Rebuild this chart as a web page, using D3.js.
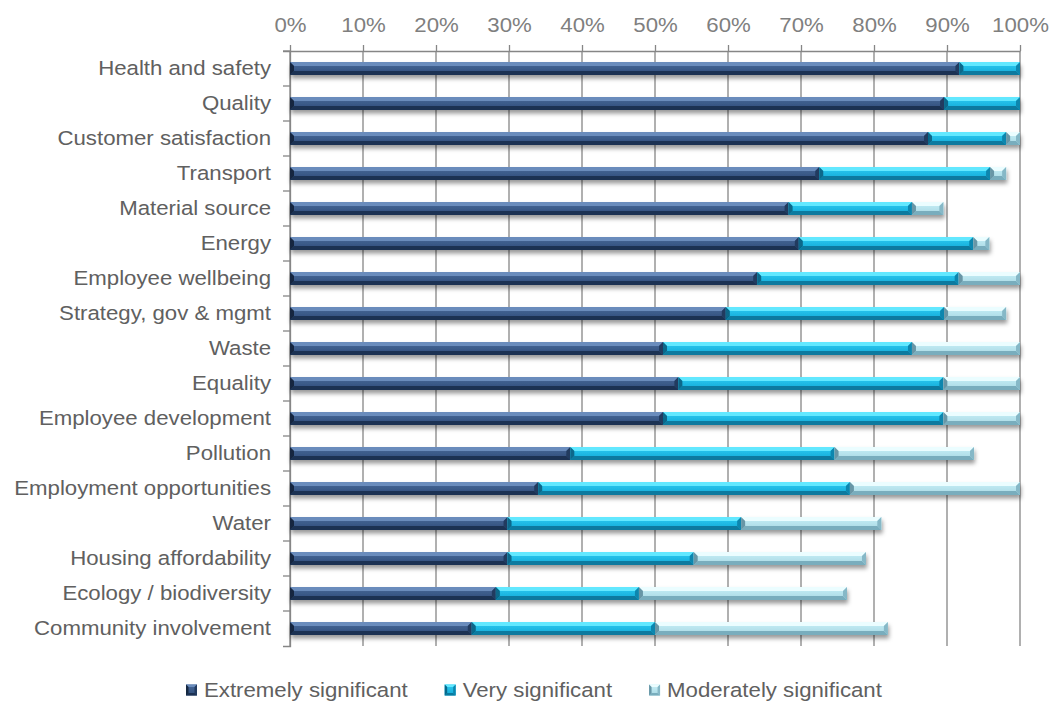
<!DOCTYPE html>
<html>
<head>
<meta charset="utf-8">
<script src="https://cdn.jsdelivr.net/npm/d3@7"></script>
<style>
  body { margin: 0; background: #fff; }
  svg { display: block; }
</style>
</head>
<body>
<svg id="chart" width="1053" height="707"></svg>
<script>
// Share of respondents (%) rating each topic, by significance level
const categories = [
  "Health and safety", "Quality", "Customer satisfaction", "Transport",
  "Material source", "Energy", "Employee wellbeing", "Strategy, gov & mgmt",
  "Waste", "Equality", "Employee development", "Pollution",
  "Employment opportunities", "Water", "Housing affordability",
  "Ecology / biodiversity", "Community involvement"
];
const extremely  = [91.7, 89.6, 87.4, 72.5, 68.3, 69.7, 64.0, 59.7, 51.1, 53.2, 51.1, 38.4, 34.0, 29.8, 29.8, 28.2, 24.9];
const very       = [ 8.3, 10.4, 10.7, 23.4, 16.9, 23.9, 27.6, 29.9, 34.1, 36.3, 38.4, 36.2, 42.7, 32.0, 25.5, 19.6, 25.1];
const moderately = [ 0.0,  0.0,  1.9,  2.2,  4.3,  2.2,  8.4,  8.5, 14.8, 10.5, 10.5, 19.1, 23.3, 19.2, 23.6, 28.5, 31.9];
const seriesNames = ["Extremely significant", "Very significant", "Moderately significant"];
const tickValues = [0, 10, 20, 30, 40, 50, 60, 70, 80, 90, 100];

const svg = d3.select("#chart");
const plot = { left: 290, right: 1020, top: 51, bottom: 646 };
const textStretch = 1.14;
const font = "'Liberation Sans', Arial, sans-serif";

const x = d3.scaleLinear().domain([0, 100]).range([plot.left, plot.right]);
const y = d3.scaleBand().domain(categories).range([plot.top, plot.bottom]);
const barH = Math.round(y.bandwidth() * 0.37);

const keys = ["extremely", "very", "moderately"];
const rows = categories.map((c, i) => ({
  category: c, extremely: extremely[i], very: very[i], moderately: moderately[i]
}));
const stacked = d3.stack().keys(keys)(rows);

// bevelled fill colours per series
const palette = {
  extremely:  { top: "#6a8cbc", c0: "#48699a", c1: "#2f4d79", bottom: "#1c3152", left: "#15273f", right: "#213a5f" },
  very:       { top: "#62e8ff", c0: "#2ccbf2", c1: "#13a9d6", bottom: "#0a7a9f", left: "#07688a", right: "#0b86ae" },
  moderately: { top: "#ebfdff", c0: "#c8f0f7", c1: "#a7d7e3", bottom: "#79adbd", left: "#6796a6", right: "#86b8c7" }
};

const defs = svg.append("defs");
keys.forEach(k => {
  const g = defs.append("linearGradient").attr("id", "grad-" + k)
    .attr("x1", 0).attr("y1", 0).attr("x2", 0).attr("y2", 1);
  g.append("stop").attr("offset", "0%").attr("stop-color", palette[k].c0);
  g.append("stop").attr("offset", "100%").attr("stop-color", palette[k].c1);
});
const shadow = defs.append("filter").attr("id", "shadow")
  .attr("x", "-5%").attr("y", "-40%").attr("width", "110%").attr("height", "210%");
shadow.append("feDropShadow").attr("dx", 1).attr("dy", 3.5).attr("stdDeviation", 2)
  .attr("flood-color", "#000").attr("flood-opacity", 0.4);

// draws one bevelled block
function bevelBlock(g, x0, x1, y0, h, key, size) {
  const w = x1 - x0;
  if (w <= 0.2) return;
  const p = palette[key];
  const b = Math.min(size, w / 2, h / 2);
  const pts = a => a.map(d => d.join(",")).join(" ");
  g.append("rect").attr("x", x0).attr("y", y0).attr("width", w).attr("height", h)
    .attr("fill", `url(#grad-${key})`);
  g.append("polygon").attr("points", pts([[x0, y0], [x1, y0], [x1 - b, y0 + b], [x0 + b, y0 + b]])).attr("fill", p.top);
  g.append("polygon").attr("points", pts([[x0, y0 + h], [x1, y0 + h], [x1 - b, y0 + h - b], [x0 + b, y0 + h - b]])).attr("fill", p.bottom);
  g.append("polygon").attr("points", pts([[x0, y0], [x0 + b, y0 + b], [x0 + b, y0 + h - b], [x0, y0 + h]])).attr("fill", p.left);
  g.append("polygon").attr("points", pts([[x1, y0], [x1 - b, y0 + b], [x1 - b, y0 + h - b], [x1, y0 + h]])).attr("fill", p.right);
}

// vertical gridlines
svg.append("g").selectAll("line").data(tickValues).join("line")
  .attr("x1", d => x(d)).attr("x2", d => x(d))
  .attr("y1", plot.top).attr("y2", plot.bottom)
  .attr("stroke", "#868686").attr("stroke-width", 1.3);

// top value axis
const xAxis = svg.append("g").attr("transform", `translate(0,${plot.top})`)
  .call(d3.axisTop(x).tickValues(tickValues).tickFormat(d => d + "%")
    .tickSizeInner(6).tickSizeOuter(0).tickPadding(13));
xAxis.select(".domain").attr("stroke", "#868686").attr("stroke-width", 1.3);
xAxis.selectAll(".tick line").attr("stroke", "#868686").attr("stroke-width", 1.3);
xAxis.selectAll(".tick text")
  .attr("fill", "#7f7f7f").style("font-family", font).style("font-size", "19.5px")
  .attr("transform", `scale(${textStretch},1)`);

// left category axis (labels centred, ticks on band boundaries)
const yAxis = svg.append("g").attr("transform", `translate(${plot.left},0)`)
  .call(d3.axisLeft(y).tickSizeInner(0).tickSizeOuter(7).tickPadding(19));
yAxis.select(".domain").attr("stroke", "#868686").attr("stroke-width", 1.3);
yAxis.selectAll(".tick text")
  .attr("fill", "#606060").style("font-family", font).style("font-size", "19.5px")
  .attr("x", -19 / textStretch)
  .attr("transform", `scale(${textStretch},1)`);
svg.append("g").selectAll("line").data(categories).join("line")
  .attr("x1", plot.left - 7).attr("x2", plot.left)
  .attr("y1", d => y(d)).attr("y2", d => y(d))
  .attr("stroke", "#868686").attr("stroke-width", 1.3);

// stacked bars
const barRows = svg.append("g").selectAll("g").data(rows).join("g")
  .attr("filter", "url(#shadow)");
barRows.each(function (row, i) {
  const g = d3.select(this);
  const y0 = y(row.category) + (y.bandwidth() - barH) / 2;
  stacked.forEach(s => bevelBlock(g, x(s[i][0]), x(s[i][1]), y0, barH, s.key, 4));
});

// legend
const legend = svg.append("g");
let lx = 186;
keys.forEach((k, i) => {
  const item = legend.append("g");
  const mg = item.append("g");
  bevelBlock(mg, lx, lx + 11, 684.5, 11, k, 2.5);
  const t = item.append("text")
    .attr("x", 0).attr("y", 0)
    .attr("transform", `translate(${lx + 18},697) scale(${textStretch},1)`)
    .attr("fill", "#606060").style("font-family", font).style("font-size", "19.5px")
    .text(seriesNames[i]);
  lx = lx + 18 + t.node().getComputedTextLength() * textStretch + 37;
});
</script>
</body>
</html>
